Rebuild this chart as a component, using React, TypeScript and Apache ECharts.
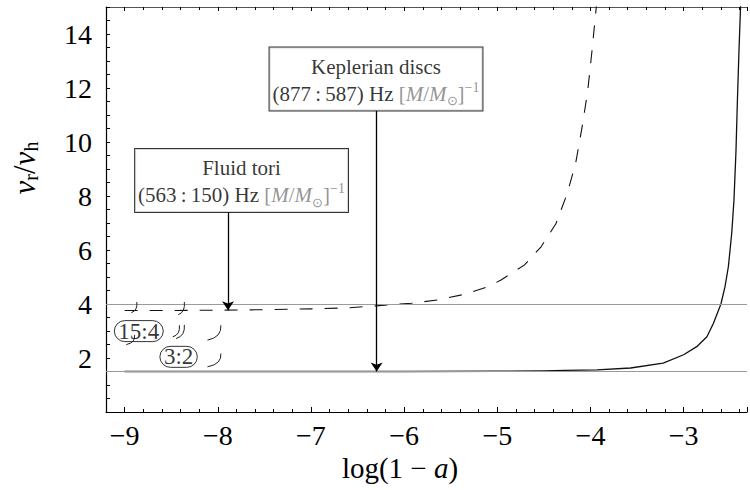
import React, { useEffect, useRef } from "react";
import * as echarts from "echarts";

// Fluid tori (dashed curve)
const torusX = [-9, -8.5, -8, -7.5, -7, -6.6, -6.3, -5.92, -5.64, -5.35, -5.1, -4.96, -4.71, -4.53, -4.37, -4.25, -4.16, -4.09, -4.03, -3.98, -3.94, -3.92];
const torusY = [3.76, 3.76, 3.77, 3.79, 3.82, 3.86, 3.93, 4.03, 4.15, 4.36, 4.64, 4.89, 5.44, 6.12, 6.98, 8.09, 9.2, 10.55, 11.88, 13.5, 14.92, 15.6];
// Keplerian discs (solid curve)
const keplerX = [-9, -8, -7, -6, -5, -4.5, -4.28, -3.93, -3.57, -3.22, -3.0, -2.86, -2.75, -2.68, -2.6, -2.556, -2.52, -2.484, -2.46, -2.438, -2.423, -2.406, -2.39, -2.385];
const keplerY = [1.5, 1.5, 1.5, 1.5, 1.51, 1.52, 1.54, 1.56, 1.63, 1.81, 2.12, 2.42, 2.79, 3.29, 4.0, 4.64, 5.38, 6.62, 7.84, 9.69, 11.54, 13.39, 14.93, 15.6];
// reference ratios
const refLevels = [4, 1.5];
// annotation arrows
const arrowX = [-7.89, -6.295];
const arrowFrom = [7.41, 11.17];
const arrowTo = [3.77, 1.5];
// annotation boxes
const boxX = [-7.745, -6.302];
const boxY = [7.41, 11.17];
const boxTitle = ["Fluid tori", "Keplerian discs"];
const boxRatio = ["563\u2009:\u2009150", "877\u2009:\u2009587"];
// resonance labels
const ratioText = ["15:4", "3:2"];
const ratioX = [-8.848, -8.421];
const ratioY = [2.996, 2.043];
// small resonance arcs
const arcTopX = [-8.869, -8.359, -8.412, -8.359, -7.967, -7.967, -8.893];
const arcTopY = [4.075, 4.075, 3.214, 3.225, 3.214, 2.165, 2.856];
const arcBotX = [-8.928, -8.424, -8.484, -8.448, -8.111, -8.111, -8.982];
const arcBotY = [3.68, 3.605, 2.782, 2.719, 2.66, 1.673, 2.497];

const SERIF = "Liberation Serif";

export default function App() {
  const ref = useRef<HTMLDivElement>(null);
  useEffect(() => {
    if (!ref.current) return;
    const chart = echarts.init(ref.current, undefined, { renderer: "svg" });

    const intLabel = (v: number) =>
      Math.abs(v - Math.round(v)) < 1e-6 ? (v < 0 ? "\u2212" + Math.abs(Math.round(v)) : String(Math.round(v))) : "";

    const boxRich = {
      n: { fontFamily: SERIF, fontSize: 21, color: "#000", lineHeight: 27 },
      g: { fontFamily: SERIF, fontSize: 21, color: "#777", lineHeight: 27 },
      gi: { fontFamily: SERIF, fontSize: 21, color: "#777", fontStyle: "italic", lineHeight: 27 },
      sub: { fontFamily: SERIF, fontSize: 13, color: "#777", lineHeight: 14, verticalAlign: "bottom" },
      sup: { fontFamily: SERIF, fontSize: 14, color: "#777", lineHeight: 14, verticalAlign: "top" },
    };

    const xCommon = {
      type: "value",
      min: -9.2,
      max: -2.32,
      splitNumber: 7,
      splitLine: { show: false },
      minorSplitLine: { show: false },
    };

    chart.setOption({
      animation: false,
      textStyle: { fontFamily: SERIF },
      grid: { left: 106, right: 0, top: 7, bottom: 78 },
      xAxis: [
        {
          ...xCommon,
          position: "bottom",
          axisLine: { show: true, lineStyle: { color: "#000", width: 1.2 } },
          axisTick: { show: true, inside: true, length: 5, lineStyle: { color: "#000" } },
          minorTick: { show: true, splitNumber: 5, length: 3, lineStyle: { color: "#000" } },
          axisLabel: { formatter: intLabel, fontFamily: SERIF, fontSize: 28, color: "#000", margin: 9 },
        },
        {
          ...xCommon,
          position: "top",
          axisLine: { show: true, lineStyle: { color: "#555", width: 1 } },
          axisTick: { show: true, inside: true, length: 4, lineStyle: { color: "#000" } },
          minorTick: { show: true, splitNumber: 5, length: 3, lineStyle: { color: "#000" } },
          axisLabel: { show: false },
        },
      ],
      yAxis: [
        {
          type: "value",
          min: 0,
          max: 15,
          interval: 2,
          splitLine: { show: false },
          minorSplitLine: { show: false },
          axisLine: { show: true, lineStyle: { color: "#000", width: 1.2 } },
          axisTick: { show: true, inside: true, length: 4, lineStyle: { color: "#000" } },
          minorTick: { show: true, splitNumber: 4, length: 4, lineStyle: { color: "#000" } },
          axisLabel: {
            formatter: (v: number) => (v > 0 && v < 15 ? String(v) : ""),
            fontFamily: SERIF,
            fontSize: 28,
            color: "#000",
            margin: 14,
          },
        },
      ],
      series: [
        {
          type: "line",
          data: [],
          silent: true,
          z: 1,
          markLine: {
            silent: true,
            symbol: "none",
            label: { show: false },
            lineStyle: { color: "#9a9a9a", width: 1, type: "solid" },
            data: refLevels.map((v) => ({ yAxis: v })),
          },
        },
        {
          type: "line",
          name: "Keplerian discs",
          data: keplerX.map((x, i) => [x, keplerY[i]]),
          showSymbol: false,
          smooth: false,
          silent: true,
          z: 3,
          lineStyle: { color: "#111", width: 1.3, join: "round" },
        },
        {
          type: "line",
          name: "Fluid tori",
          data: torusX.map((x, i) => [x, torusY[i]]),
          showSymbol: false,
          smooth: false,
          silent: true,
          z: 3,
          lineStyle: { color: "#111", width: 1.1, type: [13, 12], join: "round" },
        },
        {
          type: "line",
          data: [],
          silent: true,
          z: 4,
          markLine: {
            silent: true,
            symbol: ["none", "arrow"],
            symbolSize: 9,
            label: { show: false },
            lineStyle: { color: "#000", width: 1.3, type: "solid" },
            itemStyle: { color: "#000" },
            data: arrowX.map((x, i) => [{ coord: [x, arrowFrom[i]] }, { coord: [x, arrowTo[i]] }]),
          },
        },
        {
          type: "scatter",
          symbolSize: 0,
          silent: true,
          z: 5,
          data: boxX.map((x, i) => ({
            value: [x, boxY[i]],
            label: {
              show: true,
              position: "top",
              distance: 0,
              align: "center",
              formatter: `{n|${boxTitle[i]}}\n{n|(${boxRatio[i]}) Hz }{g|[}{gi|M}{g|/}{gi|M}{sub|\u2299}{g|]}{sup|\u22121}`,
              backgroundColor: "#fff",
              borderColor: "#000",
              borderWidth: 1,
              padding: [6, 3, 3, 3],
              rich: boxRich,
            },
          })),
        },
        {
          type: "scatter",
          symbolSize: 0,
          silent: true,
          z: 5,
          data: ratioX.map((x, i) => ({
            value: [x, ratioY[i]],
            label: {
              show: true,
              position: "inside",
              formatter: ratioText[i],
              fontFamily: SERIF,
              fontSize: 23,
              color: "#000",
              lineHeight: 21,
              borderColor: "#000",
              borderWidth: 1,
              borderRadius: 11,
              padding: [0, 4],
            },
          })),
        },
        {
          type: "custom",
          silent: true,
          z: 6,
          encode: { x: [0, 2], y: [1, 3] },
          data: arcTopX.map((x, i) => [x, arcTopY[i], arcBotX[i], arcBotY[i]]),
          renderItem: (params: any, api: any) => {
            const p1 = api.coord([api.value(0), api.value(1)]);
            const p2 = api.coord([api.value(2), api.value(3)]);
            const h = p2[1] - p1[1];
            return {
              type: "bezierCurve",
              shape: {
                x1: p1[0],
                y1: p1[1],
                x2: p2[0],
                y2: p2[1],
                cpx1: p1[0] + 1,
                cpy1: p1[1] + 0.8 * h,
              },
              style: { stroke: "#222", fill: "none", lineWidth: 1 },
            };
          },
        },
      ],
      graphic: [
        {
          type: "text",
          x: 400,
          y: 468,
          silent: true,
          style: {
            text: "{n|log(1 \u2212 }{i|a}{n|)}",
            align: "center",
            verticalAlign: "middle",
            rich: {
              n: { fontFamily: SERIF, fontSize: 29, color: "#000" },
              i: { fontFamily: SERIF, fontSize: 29, fontStyle: "italic", color: "#000" },
            },
          },
        },
        {
          type: "text",
          x: 24,
          y: 168,
          rotation: Math.PI / 2,
          silent: true,
          style: {
            text: "{i|\u03bd}{s|r}{n|/}{i|\u03bd}{s|h}",
            align: "center",
            verticalAlign: "middle",
            rich: {
              n: { fontFamily: SERIF, fontSize: 31, color: "#000", lineHeight: 34 },
              i: { fontFamily: SERIF, fontSize: 31, fontStyle: "italic", color: "#000", lineHeight: 34 },
              s: { fontFamily: SERIF, fontSize: 20, color: "#000", lineHeight: 18, verticalAlign: "bottom" },
            },
          },
        },
      ],
    });
    return () => chart.dispose();
  }, []);
  return (
    <div
      ref={ref}
      style={{ position: "fixed", left: 0, top: 0, width: 750, height: 490, background: "#fff" }}
    />
  );
}
